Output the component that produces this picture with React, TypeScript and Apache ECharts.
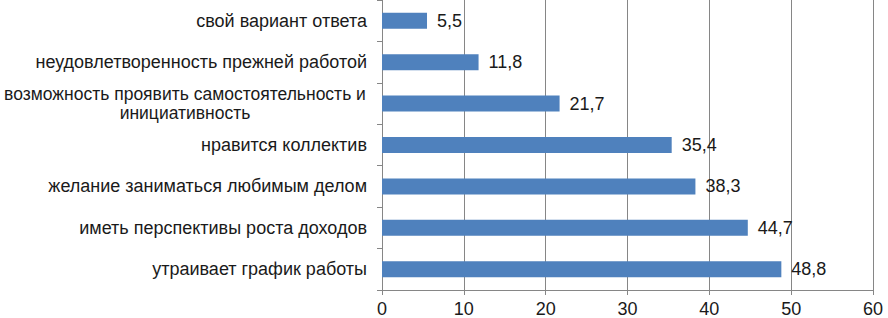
import React, { useEffect, useRef } from "react";
import * as echarts from "echarts";

const categories = [
  "утраивает график работы",
  "иметь перспективы роста доходов",
  "желание заниматься любимым делом",
  "нравится коллектив",
  "возможность проявить самостоятельность и\nинициативность",
  "неудовлетворенность прежней работой",
  "свой вариант ответа",
];
const values = [48.8, 44.7, 38.3, 35.4, 21.7, 11.8, 5.5];
const xTicks = { min: 0, max: 60, interval: 10 };

export default function App() {
  const ref = useRef<HTMLDivElement>(null);
  useEffect(() => {
    const chart = echarts.init(ref.current!, null, { renderer: "svg" });
    const font = "Liberation Sans";
    const fs = 18;
    chart.setOption({
      animation: false,
      grid: {
        left: 382,
        right: 15,
        top: 0,
        bottom: 28,
        containLabel: false,
        outerBoundsMode: "none",
      },
      xAxis: {
        type: "value",
        min: xTicks.min,
        max: xTicks.max,
        interval: xTicks.interval,
        axisLine: { show: true, lineStyle: { color: "#868686", width: 1 } },
        axisTick: { show: true, length: 5, lineStyle: { color: "#868686" } },
        splitLine: { show: true, lineStyle: { color: "#868686", width: 1 } },
        axisLabel: { color: "#1a1a1a", fontSize: fs, fontFamily: font, margin: 10 },
      },
      yAxis: {
        type: "category",
        data: categories,
        axisLine: { show: true, lineStyle: { color: "#868686", width: 1 } },
        axisTick: { show: true, length: 5, lineStyle: { color: "#868686" } },
        axisLabel: {
          color: "#1a1a1a",
          fontSize: fs,
          fontFamily: font,
          margin: 15,
          lineHeight: 19,
          formatter: (v: string) => {
            if (v.includes("\n")) {
              return v
                .split("\n")
                .map((l) => "{c|" + l + "}")
                .join("\n");
            }
            return v;
          },
          rich: {
            c: {
              width: 364,
              align: "center",
              fontSize: 17.5,
              fontFamily: font,
              color: "#1a1a1a",
              lineHeight: 19,
            },
          },
        },
      },
      series: [
        {
          type: "bar",
          data: values,
          barWidth: 16,
          itemStyle: { color: "#4F81BD" },
          label: {
            show: true,
            position: "right",
            distance: 10,
            color: "#1a1a1a",
            fontSize: fs,
            fontFamily: font,
            formatter: (p: any) => String(p.value).replace(".", ","),
          },
        },
      ],
    });
    return () => chart.dispose();
  }, []);
  return <div ref={ref} style={{ width: 888, height: 318, position: "absolute", left: 0, top: 0 }} />;
}
